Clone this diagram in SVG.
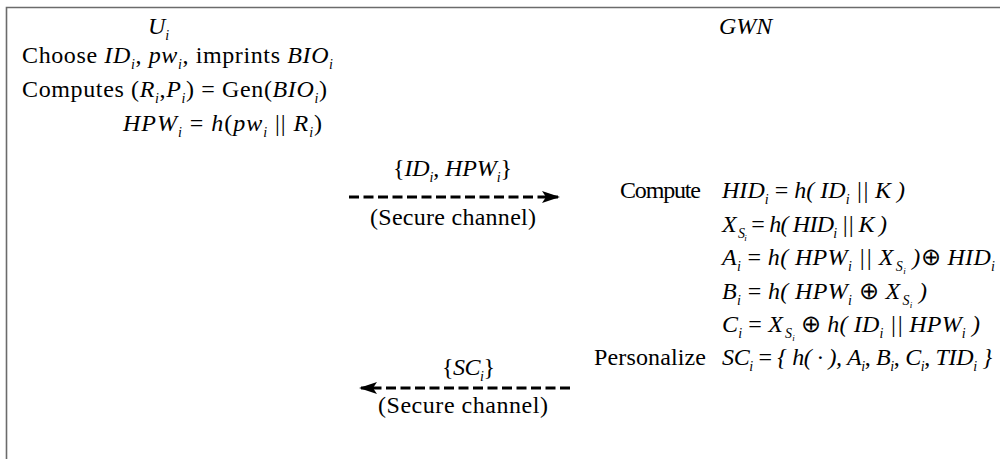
<svg xmlns="http://www.w3.org/2000/svg" width="1000" height="459" viewBox="0 0 1000 459">
  <style>
    text { font-family: "Liberation Serif", "Times New Roman", serif; font-size: 24px; fill: #000; }
    .m { font-style: italic; }
    .s { font-style: italic; font-size: 14px; }
    .ss { font-style: italic; font-size: 9px; }
    .dash { stroke: #000; stroke-width: 3; stroke-dasharray: 10 4.5; fill: none; }
  </style>
  <defs>
    <marker id="head" viewBox="0 0 18 12" refX="16" refY="6" markerWidth="18" markerHeight="12" markerUnits="userSpaceOnUse" orient="auto">
      <path d="M0,0 L18,6 L0,12 L4,6 Z" fill="#000"/>
    </marker>
  </defs>

  <rect width="1000" height="459" fill="#fff"/>
  <!-- frame: only top and left edges are visible -->
  <path d="M6.5,459 V7.5 H1000" fill="none" stroke="#6b6b6b" stroke-width="1.6"/>

  <!-- user side -->
  <g id="user">
    <text x="148" y="34"><tspan class="m">U</tspan><tspan class="s" dy="6">i</tspan></text>
    <text x="22" y="63" textLength="311" lengthAdjust="spacing">Choose <tspan class="m">ID</tspan><tspan class="s" dy="6">i</tspan><tspan dy="-6">, </tspan><tspan class="m">pw</tspan><tspan class="s" dy="6">i</tspan><tspan dy="-6">, imprints </tspan><tspan class="m">BIO</tspan><tspan class="s" dy="6">i</tspan></text>
    <text x="22" y="97" textLength="305" lengthAdjust="spacing">Computes (<tspan class="m">R</tspan><tspan class="s" dy="6">i</tspan><tspan dy="-6">,</tspan><tspan class="m">P</tspan><tspan class="s" dy="6">i</tspan><tspan dy="-6">) = Gen(</tspan><tspan class="m">BIO</tspan><tspan class="s" dy="6">i</tspan><tspan dy="-6">)</tspan></text>
    <text x="123" y="131" textLength="199" lengthAdjust="spacing"><tspan class="m">HPW</tspan><tspan class="s" dy="6">i</tspan><tspan dy="-6"> = </tspan><tspan class="m">h</tspan>(<tspan class="m">pw</tspan><tspan class="s" dy="6">i</tspan><tspan dy="-6"> || </tspan><tspan class="m">R</tspan><tspan class="s" dy="6">i</tspan><tspan dy="-6">)</tspan></text>
  </g>

  <!-- gateway side -->
  <g id="gwn">
    <text x="719" y="34" class="m">GWN</text>
    <text x="620" y="198" textLength="81" lengthAdjust="spacing">Compute</text>
    <text x="722" y="198" textLength="183" lengthAdjust="spacing"><tspan class="m">HID</tspan><tspan class="s" dy="6">i</tspan><tspan dy="-6"> = </tspan><tspan class="m">h( ID</tspan><tspan class="s" dy="6">i</tspan><tspan dy="-6" class="m"> || K )</tspan></text>
    <text x="722" y="232" textLength="165" lengthAdjust="spacing"><tspan class="m">X</tspan><tspan class="s" dx="2" dy="6">S</tspan><tspan class="ss" dy="3">i</tspan><tspan dy="-9"> = </tspan><tspan class="m">h( HID</tspan><tspan class="s" dy="6">i</tspan><tspan dy="-6" class="m"> || K )</tspan></text>
    <text x="722" y="265" textLength="273" lengthAdjust="spacing"><tspan class="m">A</tspan><tspan class="s" dy="6">i</tspan><tspan dy="-6"> = </tspan><tspan class="m">h( HPW</tspan><tspan class="s" dy="6">i</tspan><tspan dy="-6" class="m"> || X</tspan><tspan class="s" dx="2" dy="6">S</tspan><tspan class="ss" dy="3">i</tspan><tspan dy="-9" class="m"> )</tspan><tspan>⊕ </tspan><tspan class="m">HID</tspan><tspan class="s" dy="6">i</tspan></text>
    <text x="722" y="299" textLength="205" lengthAdjust="spacing"><tspan class="m">B</tspan><tspan class="s" dy="6">i</tspan><tspan dy="-6"> = </tspan><tspan class="m">h( HPW</tspan><tspan class="s" dy="6">i</tspan><tspan dy="-6"> ⊕ </tspan><tspan class="m">X</tspan><tspan class="s" dx="2" dy="6">S</tspan><tspan class="ss" dy="3">i</tspan><tspan dy="-9" class="m"> )</tspan></text>
    <text x="722" y="332" textLength="258" lengthAdjust="spacing"><tspan class="m">C</tspan><tspan class="s" dy="6">i</tspan><tspan dy="-6"> = </tspan><tspan class="m">X</tspan><tspan class="s" dx="2" dy="6">S</tspan><tspan class="ss" dy="3">i</tspan><tspan dy="-9"> ⊕ </tspan><tspan class="m">h( ID</tspan><tspan class="s" dy="6">i</tspan><tspan dy="-6" class="m"> || HPW</tspan><tspan class="s" dy="6">i</tspan><tspan dy="-6" class="m"> )</tspan></text>
    <text x="594" y="365" textLength="112" lengthAdjust="spacing">Personalize</text>
    <text x="722" y="365" textLength="270" lengthAdjust="spacing"><tspan class="m">SC</tspan><tspan class="s" dy="6">i</tspan><tspan dy="-6"> = </tspan><tspan class="m">{ h( · ), A</tspan><tspan class="s" dy="6">i</tspan><tspan dy="-6">, </tspan><tspan class="m">B</tspan><tspan class="s" dy="6">i</tspan><tspan dy="-6">, </tspan><tspan class="m">C</tspan><tspan class="s" dy="6">i</tspan><tspan dy="-6">, </tspan><tspan class="m">TID</tspan><tspan class="s" dy="6">i</tspan><tspan dy="-6" class="m"> }</tspan></text>
  </g>

  <!-- messages -->
  <g id="connectors">
    <text x="393" y="176" textLength="119" lengthAdjust="spacing">{<tspan class="m">ID</tspan><tspan class="s" dy="6">i</tspan><tspan dy="-6">, </tspan><tspan class="m">HPW</tspan><tspan class="s" dy="6">i</tspan><tspan dy="-6">}</tspan></text>
    <line class="dash" x1="349" y1="197" x2="558" y2="197" marker-end="url(#head)"/>
    <text x="370" y="225" textLength="166" lengthAdjust="spacing">(Secure channel)</text>

    <text x="442" y="375" textLength="53" lengthAdjust="spacing">{<tspan class="m">SC</tspan><tspan class="s" dy="6">i</tspan><tspan dy="-6">}</tspan></text>
    <line class="dash" x1="570" y1="388" x2="361" y2="388" marker-end="url(#head)"/>
    <text x="378" y="413" textLength="170" lengthAdjust="spacing">(Secure channel)</text>
  </g>
</svg>
